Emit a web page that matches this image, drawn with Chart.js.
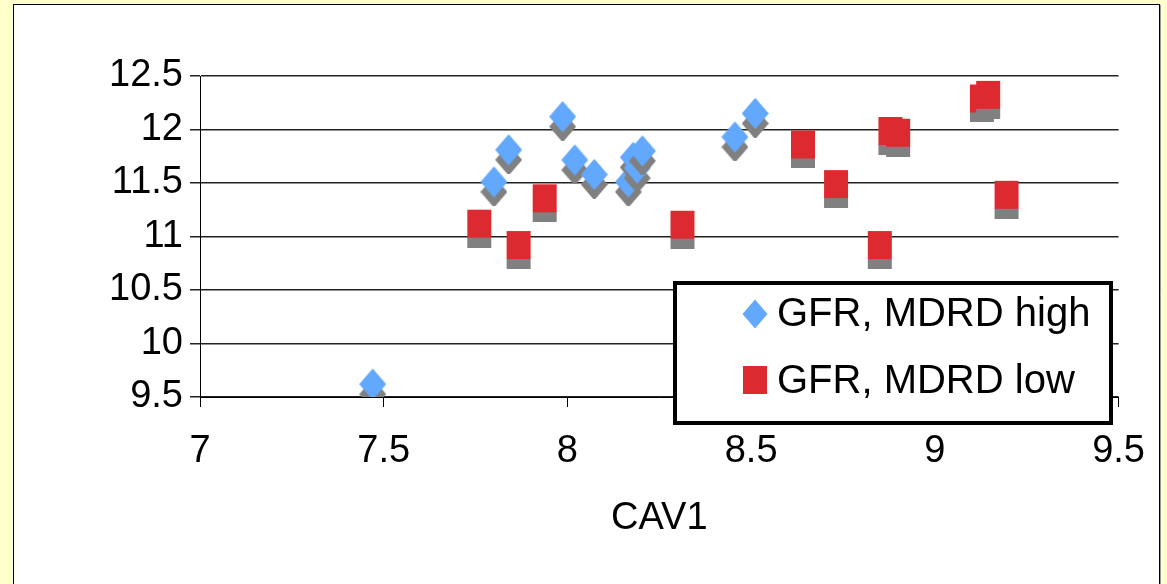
<!DOCTYPE html>
<html>
<head>
<meta charset="utf-8">
<script src="https://cdn.jsdelivr.net/npm/chart.js@4/dist/chart.umd.min.js"></script>
<style>
  html, body { margin: 0; padding: 0; background: #ffffcc; }
  canvas { display: block; }
</style>
</head>
<body>
<canvas id="chart" width="1167" height="584"></canvas>
<script>
// CAV1 vs GFR
const cavHigh = [7.47, 7.80, 7.84, 7.987, 8.02, 8.073, 8.166, 8.179, 8.19, 8.204, 8.456, 8.511];
const gfrHigh = [9.62, 11.51, 11.81, 12.12, 11.715, 11.58, 11.51, 11.74, 11.64, 11.80, 11.93, 12.15];
const cavLow = [7.76, 7.867, 7.938, 8.313, 8.641, 8.731, 8.85, 8.879, 8.90, 9.128, 9.145, 9.195];
const gfrLow = [11.12, 10.92, 11.357, 11.11, 11.86, 11.49, 10.92, 11.986, 11.97, 12.29, 12.324, 11.39];
const seriesNames = ["GFR, MDRD high", "GFR, MDRD low"];
const xRange = [7, 9.5];
const yRange = [9.5, 12.5];
const tickStep = 0.5;
const xTitle = "CAV1";

const BLUE = "#62a8fd";
const RED = "#dd2a31";
const SHADOW = "#808080";
const FONT = "'Liberation Sans', Arial, sans-serif";

// 12 -> "12", 11.5 -> "11.5" (excel style, no trailing .0)
const fmt = (v) => String(Math.round(v * 10) / 10);

function shapePath(g, shape, x, y, w, h) {
  g.beginPath();
  if (shape === "diamond") {
    g.moveTo(x + w / 2, y);
    g.lineTo(x + w, y + h / 2);
    g.lineTo(x + w / 2, y + h);
    g.lineTo(x, y + h / 2);
    g.closePath();
  } else {
    g.rect(x, y, w, h);
  }
}

// marker with its grey drop shadow baked in; body sits at the image centre
function markerImage(shape, color, w, h) {
  const off = 10;
  const c = document.createElement("canvas");
  c.width = w + 2;
  c.height = h + 2 * off;
  const g = c.getContext("2d");
  g.lineJoin = "round";
  [[2 * off, SHADOW], [off, color]].forEach(([dy, fill]) => {
    shapePath(g, shape, 1, dy, w, h);
    g.fillStyle = fill;
    g.fill();
    if (shape === "diamond") { g.strokeStyle = fill; g.lineWidth = 1.5; g.stroke(); }
  });
  return c;
}

const toPoints = (xs, ys) => xs.map((x, i) => ({ x, y: ys[i] }));

const panel = {
  id: "panel",
  beforeDraw(chart) {
    const ctx = chart.ctx;
    ctx.save();
    ctx.fillStyle = "#ffffcc";
    ctx.fillRect(0, 0, chart.width, chart.height);
    ctx.fillStyle = "#ffffff";
    ctx.fillRect(13.5, 4.5, 1146, 600);
    ctx.strokeStyle = "#000";
    ctx.lineWidth = 1;
    ctx.strokeRect(13.5, 4.5, 1146, 600);
    ctx.strokeStyle = "#999";
    ctx.beginPath(); ctx.moveTo(1160.5, 5); ctx.lineTo(1160.5, 584); ctx.stroke();
    ctx.restore();
  },
};

const boxLegend = {
  id: "boxLegend",
  afterDraw(chart) {
    const ctx = chart.ctx;
    ctx.save();
    ctx.fillStyle = "#fff";
    ctx.fillRect(675, 283, 436, 140);
    ctx.strokeStyle = "#000";
    ctx.lineWidth = 4;
    ctx.strokeRect(675, 283, 436, 140);
    const rows = [
      { shape: "diamond", color: BLUE, w: 25, h: 29, cy: 314, ty: 315 },
      { shape: "rect", color: RED, w: 24, h: 28, cy: 380, ty: 382 },
    ];
    ctx.font = "40px " + FONT;
    ctx.textBaseline = "middle";
    ctx.textAlign = "left";
    rows.forEach((r, i) => {
      ctx.fillStyle = r.color;
      shapePath(ctx, r.shape, 755 - r.w / 2, r.cy - r.h / 2, r.w, r.h);
      ctx.fill();
      ctx.fillStyle = "#000";
      ctx.fillText(chart.data.datasets[i].label, 777, r.ty);
    });
    ctx.restore();
  },
};

new Chart(document.getElementById("chart"), {
  type: "scatter",
  data: {
    datasets: [
      {
        label: seriesNames[0],
        data: toPoints(cavHigh, gfrHigh),
        pointStyle: markerImage("diamond", BLUE, 25, 29),
        pointRadius: 14,
      },
      {
        label: seriesNames[1],
        data: toPoints(cavLow, gfrLow),
        pointStyle: markerImage("rect", RED, 24, 28),
        pointRadius: 14,
      },
    ],
  },
  options: {
    responsive: false,
    animation: false,
    devicePixelRatio: 1,
    layout: { padding: { top: 76, right: 47, bottom: 0, left: 0 } },
    scales: {
      x: {
        type: "linear", min: xRange[0], max: xRange[1],
        afterFit: (s) => { s.height = 187; },
        ticks: { stepSize: tickStep, color: "#000", padding: 22, callback: fmt, font: { family: FONT, size: 38 } },
        grid: { drawOnChartArea: false, tickLength: 10, color: "#000" },
        border: { color: "#000", width: 1 },
        title: {
          display: true, text: xTitle, color: "#000",
          font: { family: FONT, size: 38 }, padding: { top: 0, bottom: 43 },
        },
      },
      y: {
        min: yRange[0], max: yRange[1],
        afterFit: (s) => { s.width = 200; },
        ticks: { stepSize: tickStep, color: "#000", padding: 7, callback: fmt, font: { family: FONT, size: 38 } },
        grid: { tickLength: 10, color: "#222", lineWidth: 1.5 },
        border: { color: "#000", width: 1 },
      },
    },
    plugins: { legend: { display: false }, tooltip: { enabled: false } },
  },
  plugins: [panel, boxLegend],
});
</script>
</body>
</html>
